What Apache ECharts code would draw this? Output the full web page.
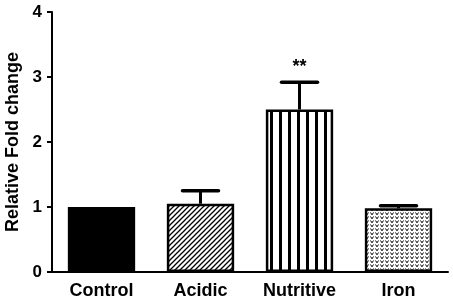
<!DOCTYPE html>
<html>
<head>
<meta charset="utf-8">
<script src="https://cdn.jsdelivr.net/npm/echarts@6/dist/echarts.min.js"></script>
<style>
  html, body { margin: 0; padding: 0; background: #fff; }
  #chart { width: 453px; height: 302px; }
</style>
</head>
<body>
<div id="chart"></div>
<script>
const categories = ['Control', 'Acidic', 'Nutritive', 'Iron']
const means = [1.0, 1.05, 2.5, 0.98]
const errors = [0, 0.2, 0.42, 0.04]
const marks = ['', '', '**', '']
const yTicks = [0, 1, 2, 3, 4]

const FONT = '"Liberation Sans", Arial, sans-serif'

function makePattern(w, h, draw) {
  const c = document.createElement('canvas')
  c.width = w
  c.height = h
  const ctx = c.getContext('2d')
  ctx.fillStyle = '#fff'
  ctx.fillRect(0, 0, w, h)
  ctx.strokeStyle = '#000'
  ctx.fillStyle = '#000'
  draw(ctx)
  return { image: c, repeat: 'repeat' }
}

const hatch = makePattern(5, 5, ctx => {
  ctx.lineWidth = 1.3
  ctx.beginPath()
  ctx.moveTo(-1, 6); ctx.lineTo(6, -1)
  ctx.moveTo(-1, 1); ctx.lineTo(1, -1)
  ctx.moveTo(4, 6); ctx.lineTo(6, 4)
  ctx.stroke()
})

const stripes = makePattern(9, 4, ctx => {
  ctx.fillRect(0, 0, 3, 4)
})

const dots = makePattern(5, 4, ctx => {
  ctx.lineWidth = 1
  ctx.beginPath()
  ctx.moveTo(0.5, 0.5); ctx.lineTo(2, 2.8); ctx.lineTo(3.5, 0.5)
  ctx.stroke()
})

const fills = ['#000', hatch, stripes, dots]

const chart = echarts.init(document.getElementById('chart'))
chart.setOption({
  animation: false,
  grid: { left: 52, right: 5, top: 12, bottom: 30, outerBoundsMode: 'none' },
  xAxis: {
    type: 'category',
    data: categories,
    axisLine: { lineStyle: { color: '#000', width: 2 } },
    axisTick: { alignWithLabel: true, length: 5, lineStyle: { color: '#000', width: 2 } },
    axisLabel: { color: '#000', fontFamily: FONT, fontWeight: 'bold', fontSize: 18, margin: 10 }
  },
  yAxis: {
    type: 'value',
    min: yTicks[0],
    max: yTicks[yTicks.length - 1],
    interval: 1,
    name: 'Relative Fold change',
    nameLocation: 'middle',
    nameGap: 29,
    nameTextStyle: { color: '#000', fontFamily: FONT, fontWeight: 'bold', fontSize: 18 },
    axisLine: { show: true, lineStyle: { color: '#000', width: 2 } },
    axisTick: { show: true, length: 5, lineStyle: { color: '#000', width: 2 } },
    axisLabel: { color: '#000', fontFamily: FONT, fontWeight: 'bold', fontSize: 17, margin: 10 },
    splitLine: { show: false }
  },
  series: [
    {
      type: 'bar',
      barWidth: '68%',
      data: means.map((v, i) => ({
        value: v,
        itemStyle: { color: fills[i], borderColor: '#000', borderWidth: 2.5 }
      }))
    },
    {
      type: 'custom',
      z: 5,
      data: means.map((v, i) => [i, v, v + errors[i], marks[i]]),
      renderItem: (params, api) => {
        const i = api.value(0)
        const base = api.coord([i, api.value(1)])
        const top = api.coord([i, api.value(2)])
        const half = 18
        const style = { stroke: '#000', lineWidth: 3 }
        const children = []
        if (errors[i] > 0) {
          children.push(
            { type: 'line', shape: { x1: base[0], y1: base[1], x2: top[0], y2: top[1] }, style },
            { type: 'line', shape: { x1: top[0] - half, y1: top[1], x2: top[0] + half, y2: top[1] }, style: { stroke: '#000', lineWidth: 3.5, lineCap: 'round' } }
          )
        }
        if (marks[i]) {
          children.push({
            type: 'text',
            style: {
              text: marks[i], x: top[0], y: top[1] - 6,
              align: 'center', verticalAlign: 'bottom',
              fill: '#000', font: 'bold 18px ' + FONT
            }
          })
        }
        return { type: 'group', children }
      }
    }
  ]
})
</script>
</body>
</html>
